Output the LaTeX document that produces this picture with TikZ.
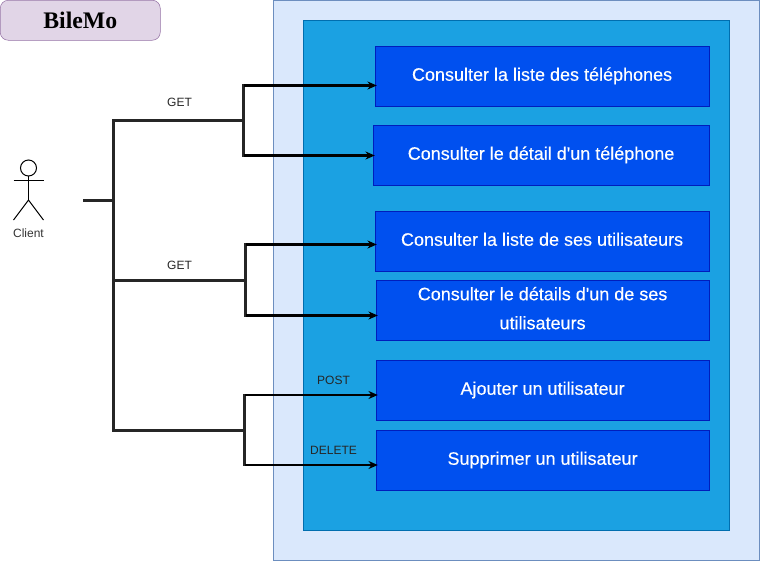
\documentclass[tikz,border=0pt]{standalone}
\usepackage{fontspec}
\setmainfont{Liberation Sans}
\newfontfamily\titlefont{Liberation Serif}
\newfontfamily\boxfont[FakeBold=0.25]{Liberation Sans}
\definecolor{outerfill}{HTML}{DAE8FC}
\definecolor{outerline}{HTML}{6C8EBF}
\definecolor{innerfill}{HTML}{1BA1E2}
\definecolor{innerline}{HTML}{006EAF}
\definecolor{boxfill}{HTML}{0050EF}
\definecolor{boxline}{HTML}{001DBC}
\definecolor{titlefill}{HTML}{E1D5E7}
\definecolor{titleline}{HTML}{9673A6}
\usetikzlibrary{arrows.meta}
\newcommand{\boxstrut}{\rule[-3pt]{0pt}{13pt}}
\tikzset{
    usecase/.style={draw=boxline, fill=boxfill, text=white, inner sep=0pt, align=center,
        minimum height=45pt, anchor=north west,
        font=\boxfont\fontsize{13.5pt}{15pt}\selectfont},
    verb/.style={font=\fontsize{9pt}{11pt}\selectfont, text=black!85, inner sep=0pt},
    wire/.style={line width=1.8pt, black!85},
    arrowwire/.style={line width=1.8pt, shorten >=-1.5pt, -{Stealth[length=7pt,width=6pt]}}
}
\begin{document}
\begin{tikzpicture}[x=0.75pt, y=-0.75pt]
    \useasboundingbox (0,0) rectangle (760,561);
    % Fond
    \node[draw=outerline, fill=outerfill, minimum width=364.5pt, minimum height=420pt, inner sep=0pt, anchor=north west] (api) at (272.8,-0.2) {};
    \node[draw=innerline, fill=innerfill, minimum width=319.5pt, minimum height=382.5pt, inner sep=0pt, anchor=north west] (inner) at (302.8,19.8) {};
    \node[draw=titleline, fill=titlefill, rounded corners=6pt, minimum width=120pt, minimum height=30pt, inner sep=0pt, anchor=north west,
        font=\titlefont\bfseries\fontsize{17.8pt}{20pt}\selectfont] (title) at (0,0) {BileMo};
    % Cas d'utilisation
    \node[usecase, minimum width=250.5pt] (liste) at (374.8,45.8) {\boxstrut Consulter la liste des téléphones};
    \node[usecase, minimum width=252pt] (detail) at (372.8,124.8) {\boxstrut Consulter le détail d'un téléphone};
    \node[usecase, minimum width=250.5pt] (users) at (374.8,210.8) {\boxstrut Consulter la liste de ses utilisateurs};
    \node[usecase, minimum width=249.75pt] (user) at (375.8,279.8) {\boxstrut Consulter le détails d'un de ses\\[6.75pt]\boxstrut utilisateurs};
    \node[usecase, minimum width=249.75pt] (ajout) at (375.8,359.8) {\boxstrut Ajouter un utilisateur};
    \node[usecase, minimum width=249.75pt] (suppr) at (375.8,429.8) {\boxstrut Supprimer un utilisateur};
    % Client
    \begin{scope}[shift={(28.5,0)}, line width=0.75pt]
        \draw (0,168) circle (6pt);
        \draw (0,176) -- (0,200);
        \draw (-15,180) -- (15,180);
        \draw (-15,220) -- (0,200) -- (15,220);
    \end{scope}
    \node[verb, text=black!80] (client) at (28.5,233.5) {Client};
    % Branches
    \coordinate (start) at (83,200.5);
    \coordinate (trunk) at (113.5,200.5);
    \coordinate (top) at (113.5,120.5);
    \coordinate (mid) at (113.5,280.5);
    \coordinate (bot) at (113.5,430.5);
    \coordinate (forkA) at (243.5,120.5);
    \coordinate (forkB) at (245.5,280.5);
    \coordinate (forkC) at (244.5,430.5);
    \coordinate (a1) at (243.5,85.5);
    \coordinate (a2) at (243.5,155.5);
    \coordinate (b1) at (245.5,244.5);
    \coordinate (b2) at (245.5,315.5);
    \coordinate (c1) at (244.5,395);
    \coordinate (c2) at (244.5,465);
    \draw[wire] (start) -- (trunk);
    \draw[wire, line cap=rect] (top) -- (bot);
    \draw[wire] (top) -- (forkA);
    \draw[wire] (mid) -- (forkB);
    \draw[wire] (bot) -- (forkC);
    \draw[wire, line cap=rect] (a1) -- (a2);
    \draw[wire, line cap=rect] (b1) -- (b2);
    \draw[wire, line cap=rect] (c1) -- (c2);
    \draw[arrowwire] (a1) -- (a1 -| liste.west);
    \draw[arrowwire] (a2) -- (a2 -| detail.west);
    \draw[arrowwire] (b1) -- (b1 -| users.west);
    \draw[arrowwire] (b2) -- (b2 -| user.west);
    \draw[arrowwire] (c1) -- (c1 -| ajout.west);
    \draw[arrowwire] (c2) -- (c2 -| suppr.west);
    % Verbes
    \node[verb] (get1) at (179.5,102) {GET};
    \node[verb] (get2) at (179.5,265) {GET};
    \node[verb] (post) at (333.5,380) {POST};
    \node[verb] (delete) at (333.5,450) {DELETE};
\end{tikzpicture}
\end{document}
